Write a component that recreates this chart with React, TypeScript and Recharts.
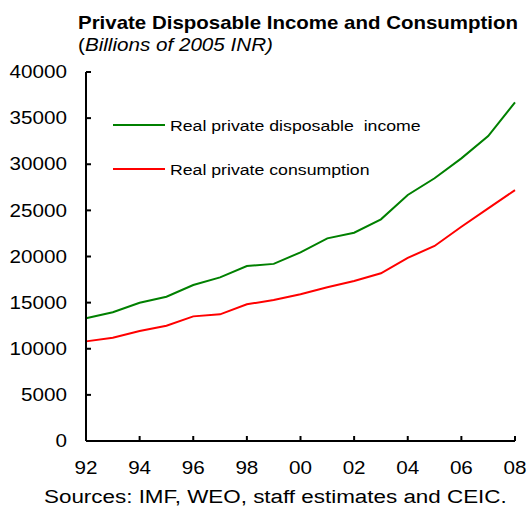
import { CartesianGrid, Legend, Line, LineChart, XAxis, YAxis } from 'recharts'

const FONT = '"Liberation Sans", Arial, sans-serif'
const GREEN = '#008000'
const RED = '#ff0000'
const STRETCH = 1.18

const years = ['92', '93', '94', '95', '96', '97', '98', '99', '00', '01', '02', '03', '04', '05', '06', '07', '08']
const disposableIncome = [13300, 13950, 14990, 15640, 16910, 17740, 18970, 19200, 20450, 21970, 22580, 24030, 26670, 28480, 30640, 33060, 36720]
const consumption = [10800, 11200, 11920, 12500, 13510, 13730, 14820, 15280, 15900, 16660, 17340, 18180, 19850, 21140, 23230, 25220, 27200]
const yTicks = [0, 5000, 10000, 15000, 20000, 25000, 30000, 35000, 40000]
const seriesOrder = ['income', 'consumption']

const TITLE = 'Private Disposable Income and Consumption'
const SUBTITLE = 'Billions of 2005 INR)'
const SOURCE = 'Sources: IMF, WEO, staff estimates and CEIC.'

const data = years.map((year, i) => ({
  year,
  income: disposableIncome[i],
  consumption: consumption[i]
}))

// Excel-style text is a bit wider than Arial, so glyphs get stretched horizontally.
function StretchedTick({ x, y, payload, anchor, dy }: any) {
  return (
    <g transform={`translate(${x},${y})`}>
      <text
        transform={`scale(${STRETCH},1)`}
        textAnchor={anchor}
        dy={dy}
        fontSize={17.5}
        fontFamily={FONT}
        fill="#000"
      >
        {payload.value}
      </text>
    </g>
  )
}

function ChartLegend({ payload }: any) {
  const items = [...(payload || [])].sort(
    (a: any, b: any) => seriesOrder.indexOf(a.dataKey) - seriesOrder.indexOf(b.dataKey)
  )
  return (
    <svg width={330} height={70} style={{ display: 'block' }}>
      {items.map((entry: any, i: number) => (
        <g key={entry.value} transform={`translate(0,${12 + i * 44})`}>
          <line x1={0} x2={52} y1={0} y2={0} stroke={entry.color} strokeWidth={2} />
          <text
            transform={`translate(57,5.5) scale(${STRETCH},1)`}
            fontSize={15}
            fontFamily={FONT}
            fill="#000"
            style={{ whiteSpace: 'pre' }}
          >
            {entry.value}
          </text>
        </g>
      ))}
    </svg>
  )
}

export default function App() {
  return (
    <div style={{ position: 'absolute', left: 0, top: 0, width: 529, height: 517, background: '#fff' }}>
      <LineChart width={529} height={517} data={data} margin={{ top: 72, right: 14, left: 26, bottom: 46 }}>
        <CartesianGrid stroke="none" />
        <XAxis
          dataKey="year"
          interval={1}
          axisLine={{ stroke: '#000', strokeWidth: 2 }}
          tickLine={{ stroke: '#000', strokeWidth: 2 }}
          tickSize={-5}
          tickMargin={26}
          tick={<StretchedTick anchor="middle" dy="0.71em" />}
          height={30}
        />
        <YAxis
          domain={[0, 40000]}
          ticks={yTicks}
          interval={0}
          axisLine={{ stroke: '#000', strokeWidth: 2 }}
          tickLine={{ stroke: '#000', strokeWidth: 2 }}
          tickSize={-5}
          tickMargin={24}
          tick={<StretchedTick anchor="end" dy="0.35em" />}
          width={60}
        />
        <Legend
          layout="vertical"
          align="center"
          verticalAlign="middle"
          content={<ChartLegend />}
          wrapperStyle={{ left: 113, top: 113, width: 330, height: 70 }}
        />
        <Line
          type="linear"
          dataKey="income"
          name="Real private disposable  income"
          stroke={GREEN}
          strokeWidth={2}
          dot={false}
          isAnimationActive={false}
        />
        <Line
          type="linear"
          dataKey="consumption"
          name="Real private consumption"
          stroke={RED}
          strokeWidth={2}
          dot={false}
          isAnimationActive={false}
        />
      </LineChart>
      <svg width={529} height={517} style={{ position: 'absolute', left: 0, top: 0, pointerEvents: 'none' }}>
        <text transform={`translate(78,29) scale(1.17,1)`} fontSize={17.5} fontWeight="bold" fontFamily={FONT} fill="#000">
          {TITLE}
        </text>
        <text transform={`translate(78,51) scale(${STRETCH},1)`} fontSize={17.5} fontFamily={FONT} fill="#000">
          (<tspan fontStyle="italic">{SUBTITLE}</tspan>
        </text>
        <text transform={`translate(44,503) scale(${STRETCH},1)`} fontSize={19} fontFamily={FONT} fill="#000">
          {SOURCE}
        </text>
      </svg>
    </div>
  )
}
